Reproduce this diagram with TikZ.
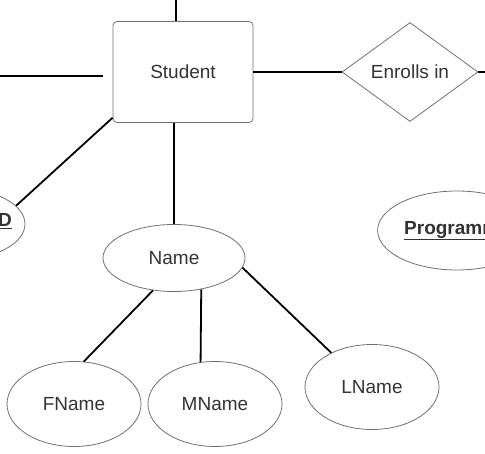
\documentclass[tikz,border=0pt]{standalone}
\usepackage{fontspec}
\setmainfont{Liberation Sans}
\usepackage{xcolor}
\usetikzlibrary{shapes.geometric}
\definecolor{txtgray}{HTML}{333333}
\definecolor{edgegray}{HTML}{707070}
\tikzset{
	entity/.style={draw=edgegray, line width=0.8pt, rounded corners=4pt, minimum width=140pt, minimum height=101pt},
	relation/.style={diamond, draw=edgegray, line width=0.8pt, aspect=1.37, inner sep=0pt, minimum width=136pt, minimum height=99pt},
	attr/.style={ellipse, draw=edgegray, line width=0.8pt, minimum width=134pt, minimum height=85pt},
	link/.style={line width=1.8pt, black}
}
\newcommand{\keyattr}[1]{\underline{\textbf{#1}}}

\begin{document}
\begin{tikzpicture}[
	x=1pt, y=-1pt,
	font=\fontsize{19}{23}\selectfont,
	every node/.style={text=txtgray}]
	\clip (0,0) rectangle (485,454);
	\node[entity] (student) at (183,72) {Student};
	\node[relation] (enrolls) at (410,72) {Enrolls in};
	\node[attr, minimum width=130pt, minimum height=70pt] (id) at (-40,224) {};
	\node[anchor=east, inner sep=0pt] (idtext) at (12,221) {\keyattr{ID}};
	\node[attr, minimum width=128pt, minimum height=79pt] (programme) at (457,230.5) {\keyattr{Programme}};
	\node[attr, minimum width=142pt, minimum height=67pt] (name) at (174,258) {Name};
	\node[attr] (fname) at (74,404) {FName};
	\node[attr] (mname) at (215,404) {MName};
	\node[attr] (lname) at (372,387) {LName};
	% loose ends at the edges
	\coordinate (topend) at (176,0);
	\coordinate (leftend) at (0,76);
	\coordinate (leftstop) at (103,76);
	\coordinate (rightend) at (485,72);
	\draw[link] (topend) -- (topend |- student.north);
	\draw[link] (leftend) -- (leftstop);
	\draw[link] (student) -- (enrolls);
	\draw[link] (enrolls.east) -- (rightend);
	\draw[link] (student.-147) -- (id.18);
	\draw[link] (name.north |- student.south) -- (name.north);
	\draw[link] (name.-123) -- (fname.77);
	\draw[link] (name.-49) -- (mname.109);
	\draw[link] (name.-8) -- (lname.140);
\end{tikzpicture}
\end{document}
